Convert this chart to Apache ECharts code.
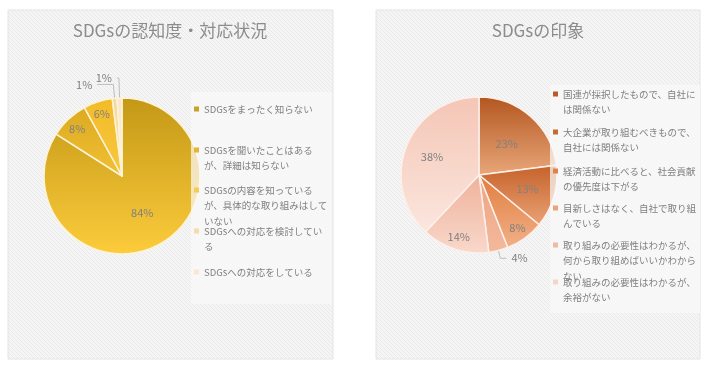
<!DOCTYPE html>
<html>
<head>
<meta charset="utf-8">
<script src="https://cdn.jsdelivr.net/npm/echarts@6/dist/echarts.min.js"></script>
<style>
html,body{margin:0;padding:0;background:#fff;}
#c{width:710px;height:371px;}
</style>
</head>
<body>
<div id="c"></div>
<script>
// ---- data ----
const awarenessTitle = 'SDGsの認知度・対応状況';
const awarenessCats = [
  'SDGsをまったく知らない',
  'SDGsを聞いたことはあるが、詳細は知らない',
  'SDGsの内容を知っているが、具体的な取り組みはしていない',
  'SDGsへの対応を検討している',
  'SDGsへの対応をしている'
];
const awarenessLegendText = [
  'SDGsをまったく知らない',
  'SDGsを聞いたことはある\nが、詳細は知らない',
  'SDGsの内容を知っている\nが、具体的な取り組みはして\nいない',
  'SDGsへの対応を検討してい\nる',
  'SDGsへの対応をしている'
];
const awarenessVals = [84, 8, 6, 1, 1];

const impressionTitle = 'SDGsの印象';
const impressionCats = [
  '国連が採択したもので、自社には関係ない',
  '大企業が取り組むべきもので、自社には関係ない',
  '経済活動に比べると、社会貢献の優先度は下がる',
  '目新しさはなく、自社で取り組んでいる',
  '取り組みの必要性はわかるが、何から取り組めばいいかわからない',
  '取り組みの必要性はわかるが、余裕がない'
];
const impressionLegendText = [
  '国連が採択したもので、自社に\nは関係ない',
  '大企業が取り組むべきもので、\n自社には関係ない',
  '経済活動に比べると、社会貢献\nの優先度は下がる',
  '目新しさはなく、自社で取り組\nんでいる',
  '取り組みの必要性はわかるが、\n何から取り組めばいいかわから\nない',
  '取り組みの必要性はわかるが、\n余裕がない'
];
const impressionVals = [23, 13, 8, 4, 14, 38];

// ---- styles ----
const FONT = '"Noto Sans CJK JP", "Noto Sans", sans-serif';
const awarenessGrad = [
  ['#c49816', '#fccc3c'],
  ['#dcaa20', '#f2c035'],
  ['#f2bb28', '#f8c840'],
  ['#f6d9a0', '#f8e2b5'],
  ['#fae6c8', '#fcefdc']
];
const awarenessMarker = ['#c9a227', '#e5b52f', '#f3cb55', '#f6dba6', '#f9e8cf'];
const impressionGrad = [
  ['#b3561f', '#e9a77a'],
  ['#c5622a', '#eba276'],
  ['#e07d3e', '#f2b088'],
  ['#eea382', '#f3b99c'],
  ['#eeb29b', '#f9d8cb'],
  ['#f4c6b5', '#fbe6de']
];
const impressionMarker = ['#b85c2c', '#c86a34', '#e08248', '#eea37f', '#f1b9a3', '#f6d4c7'];

// label placement mode per slice: 'in' (half radius), 'mid' (0.6r), 'far' (0.8r), 'out'
const awarenessLabelMode = ['in', 'far', 'far', 'out', 'out'];
const impressionLabelMode = ['in', 'mid', 'far', 'out', 'far', 'mid'];

// hatch pattern
const pc = document.createElement('canvas');
pc.width = 4; pc.height = 4;
const px = pc.getContext('2d');
px.fillStyle = '#f5f5f5'; px.fillRect(0, 0, 4, 4);
px.fillStyle = '#e9e9e9';
for (let i = 0; i < 4; i++) px.fillRect(i, i, 1, 1);
const hatch = {image: pc, repeat: 'repeat'};

const chart = echarts.init(document.getElementById('c'));
const R = 78;
const LH = 15.5;

function grad(c) {
  return new echarts.graphic.LinearGradient(0, 0, 0, 1, [{offset: 0, color: c[0]}, {offset: 1, color: c[1]}]);
}

function mainSeries(center, names, vals, grads, modes, border, outLines) {
  return {
    type: 'pie', center: center, radius: [0, R], startAngle: 90, clockwise: true,
    avoidLabelOverlap: false, z: 2,
    itemStyle: {borderColor: border, borderWidth: 1.5},
    emphasis: {disabled: true},
    data: names.map((n, i) => ({
      name: n, value: vals[i],
      itemStyle: {color: grad(grads[i])},
      label: modes[i] === 'in' ? {show: true, position: 'inside'} :
             modes[i] === 'out' ? {show: true, position: 'outside'} : {show: false},
      labelLine: Object.assign({show: modes[i] === 'out'}, outLines[i] || {})
    })),
    label: {formatter: '{c}%', color: '#808080', fontSize: 11, fontFamily: FONT},
    labelLine: {length: 9, length2: 6, lineStyle: {color: '#bdbdbd', width: 1}}
  };
}

function labelLayer(center, names, vals, modes, which, ratio) {
  return {
    type: 'pie', center: center, radius: [0, 2 * ratio * R], startAngle: 90, clockwise: true,
    silent: true, z: 3, emphasis: {disabled: true},
    itemStyle: {color: 'rgba(0,0,0,0)', borderWidth: 0},
    labelLine: {show: false},
    label: {position: 'inside', formatter: '{c}%', color: '#808080', fontSize: 11, fontFamily: FONT},
    data: names.map((n, i) => ({name: n, value: vals[i], label: {show: modes[i] === which}}))
  };
}

// legend icon: a 5px square aligned with the first text line, bbox spanning all lines
function iconFor(nl) {
  const H = nl * LH, c = LH / 2;
  return 'path://M0,0L0,0M0,' + (c - 2.5) + 'h5v5h-5zM0,' + H + 'L0,' + H;
}

function legends(names, texts, markers, left, ys) {
  return names.map((n, i) => {
    const nl = texts[i].split('\n').length;
    return {
      left: left, top: ys[i] - LH / 2, orient: 'vertical', padding: 0,
      itemWidth: 5, itemHeight: nl * LH, icon: iconFor(nl),
      selectedMode: false,
      itemStyle: {borderWidth: 0},
      data: [{name: n, itemStyle: {color: markers[i], borderWidth: 0}}],
      formatter: () => texts[i],
      textStyle: {color: '#7f7f7f', fontSize: 9.5, fontFamily: FONT, lineHeight: LH}
    };
  });
}

const leftCenter = [122, 176];
const rightCenter = [479, 175];

chart.setOption({
  animation: false,
  backgroundColor: '#ffffff',
  graphic: [
    {type: 'rect', z: -10, shape: {x: 8, y: 10, width: 325, height: 349},
     style: {fill: hatch, stroke: '#e4e4e4', lineWidth: 1}},
    {type: 'rect', z: -10, shape: {x: 376, y: 10, width: 324, height: 349},
     style: {fill: hatch, stroke: '#e4e4e4', lineWidth: 1}},
    {type: 'rect', z: 3, shape: {x: 191, y: 92, width: 141, height: 212},
     style: {fill: 'rgba(250,250,250,0.72)'}},
    {type: 'rect', z: 3, shape: {x: 550, y: 85, width: 150, height: 228},
     style: {fill: 'rgba(250,250,250,0.72)'}}
  ],
  title: [
    {text: awarenessTitle, left: 170, top: 22, textAlign: 'center', padding: 0,
     textStyle: {color: '#8c8c8c', fontSize: 17, fontWeight: 'normal', fontFamily: FONT}},
    {text: impressionTitle, left: 538, top: 22, textAlign: 'center', padding: 0,
     textStyle: {color: '#8c8c8c', fontSize: 17, fontWeight: 'normal', fontFamily: FONT}}
  ],
  legend: legends(awarenessCats, awarenessLegendText, awarenessMarker, 194, [109, 150, 190, 231, 272])
    .concat(legends(impressionCats, impressionLegendText, impressionMarker, 553, [94, 132, 171, 208, 245, 282])),
  series: [
    mainSeries(leftCenter, awarenessCats, awarenessVals, awarenessGrad, awarenessLabelMode, '#fdf3d8',
      [null, null, null, {length: 14, length2: 16}, {length: 20, length2: 2}]),
    mainSeries(rightCenter, impressionCats, impressionVals, impressionGrad, impressionLabelMode, '#fdf0ea',
      [null, null, null, {length: 8, length2: 6}, null, null]),
    labelLayer(leftCenter, awarenessCats, awarenessVals, awarenessLabelMode, 'far', 0.8),
    labelLayer(rightCenter, impressionCats, impressionVals, impressionLabelMode, 'mid', 0.61),
    labelLayer(rightCenter, impressionCats, impressionVals, impressionLabelMode, 'far', 0.8)
  ]
});
</script>
</body>
</html>
